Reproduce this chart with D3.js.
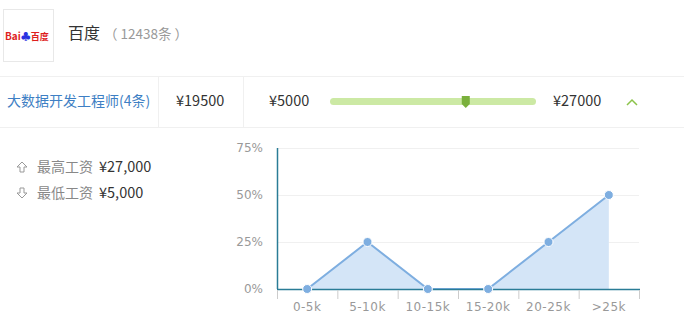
<!DOCTYPE html>
<html>
<head>
<meta charset="utf-8">
<script src="https://cdn.jsdelivr.net/npm/d3@7"></script>
<style>
  body { margin: 0; background: #fff; font-family: "Noto Sans CJK SC", "Liberation Sans", sans-serif; }
</style>
</head>
<body>
<div id="chart"></div>
<script>
const categories = ["0-5k", "5-10k", "10-15k", "15-20k", "20-25k", ">25k"];
const shares = [0, 25, 0, 0, 25, 50];
const yTicks = [0, 25, 50, 75];

const company = "百度";
const companyCount = "（ 12438条 ）";
const jobTitle = "大数据开发工程师(4条)";
const avgSalary = 19500;
const minSalary = 5000;
const maxSalary = 27000;

const width = 684, height = 323;
const font = '"Noto Sans CJK SC", "Liberation Sans", sans-serif';

const svg = d3.select("#chart").append("svg")
    .attr("width", width)
    .attr("height", height)
    .style("font-family", font);

// header: logo box + company name
svg.append("rect")
    .attr("x", 3.5).attr("y", 9.5).attr("width", 50).attr("height", 52)
    .attr("fill", "#fff").attr("stroke", "#e8e8e8");
const logo = svg.append("text").attr("x", 5).attr("y", 40).attr("font-size", 10).attr("font-weight", "bold");
logo.append("tspan").attr("fill", "#de1e1e").text("Bai");
logo.append("tspan").attr("fill", "#2932e1").text("\u2663");
logo.append("tspan").attr("fill", "#de1e1e").attr("font-size", 9).text("百度");

svg.append("text").attr("x", 68).attr("y", 39)
    .attr("font-size", 16).attr("fill", "#333").text(company);
svg.append("text").attr("x", 104).attr("y", 39)
    .attr("font-size", 13.5).attr("fill", "#999").text(companyCount);

// job row
svg.append("line").attr("x1", 0).attr("x2", width).attr("y1", 76.5).attr("y2", 76.5).attr("stroke", "#f0f0f0");
svg.append("line").attr("x1", 0).attr("x2", width).attr("y1", 127.5).attr("y2", 127.5).attr("stroke", "#f0f0f0");
[158.5, 243.5].forEach(x => {
  svg.append("line").attr("x1", x).attr("x2", x).attr("y1", 77).attr("y2", 127).attr("stroke", "#f0f0f0");
});

svg.append("text").attr("x", 7).attr("y", 106)
    .attr("font-size", 14).attr("fill", "#3e7fc4").text(jobTitle);
svg.append("text").attr("x", 176).attr("y", 106)
    .attr("font-size", 14.5).attr("fill", "#333").text("¥" + avgSalary);
svg.append("text").attr("x", 269).attr("y", 106)
    .attr("font-size", 14.5).attr("fill", "#333").text("¥" + minSalary);
svg.append("text").attr("x", 553).attr("y", 106)
    .attr("font-size", 14.5).attr("fill", "#333").text("¥" + maxSalary);

// salary slider
const sx = d3.scaleLinear().domain([minSalary, maxSalary]).range([330, 536]);
svg.append("rect")
    .attr("x", sx(minSalary)).attr("y", 98).attr("width", sx(maxSalary) - sx(minSalary)).attr("height", 7)
    .attr("rx", 3.5).attr("fill", "#cce9a4");
const mx = sx(avgSalary);
svg.append("path")
    .attr("d", `M${mx - 4},96 h8 v8 l-4,4 l-4,-4 z`)
    .attr("fill", "#7ab03c");
svg.append("path")
    .attr("d", "M627,105 l5,-5 l5,5")
    .attr("fill", "none").attr("stroke", "#8bc34a").attr("stroke-width", 1.5);

// left stats
svg.append("path").attr("d", "M22,162 l-5,5 h3 v5 h4 v-5 h3 z")
    .attr("fill", "none").attr("stroke", "#999");
svg.append("text").attr("x", 37).attr("y", 172).attr("font-size", 14).attr("fill", "#888").text("最高工资");
svg.append("text").attr("x", 99).attr("y", 172).attr("font-size", 14.5).attr("fill", "#333").text("¥27,000");
svg.append("path").attr("d", "M22,198 l-5,-5 h3 v-5 h4 v5 h3 z")
    .attr("fill", "none").attr("stroke", "#999");
svg.append("text").attr("x", 37).attr("y", 198).attr("font-size", 14).attr("fill", "#888").text("最低工资");
svg.append("text").attr("x", 99).attr("y", 198).attr("font-size", 14.5).attr("fill", "#333").text("¥5,000");

// chart
const margin = {left: 277, right: 45, top: 148, bottom: 34};
const x = d3.scaleBand().domain(categories).range([margin.left, width - margin.right]);
const y = d3.scaleLinear().domain([0, 75]).range([height - margin.bottom, margin.top]);

svg.append("g").selectAll("line").data(yTicks.filter(d => d > 0)).join("line")
    .attr("x1", margin.left).attr("x2", width - margin.right)
    .attr("y1", d => y(d) + 0.5).attr("y2", d => y(d) + 0.5)
    .attr("stroke", "#f0f0f0");

svg.append("g").selectAll("text").data(yTicks).join("text")
    .attr("x", 263).attr("y", d => y(d) + 4)
    .attr("text-anchor", "end").attr("font-size", 12).attr("fill", "#999")
    .attr("font-family", '"DejaVu Sans", sans-serif')
    .text(d => d + "%");

const cx = d => x(d) + x.bandwidth() / 2;
const pts = categories.map((c, i) => ({c, v: shares[i]}));

svg.append("path").datum(pts)
    .attr("fill", "#d4e5f7")
    .attr("d", d3.area().x(d => cx(d.c)).y0(y(0)).y1(d => y(d.v)));
svg.append("path").datum(pts)
    .attr("fill", "none").attr("stroke", "#7eaee0").attr("stroke-width", 2)
    .attr("d", d3.line().x(d => cx(d.c)).y(d => y(d.v)));

// axes
svg.append("line").attr("x1", margin.left + 0.5).attr("x2", margin.left + 0.5)
    .attr("y1", margin.top).attr("y2", y(0)).attr("stroke", "#2a7c96").attr("stroke-width", 1.5);
svg.append("line").attr("x1", margin.left).attr("x2", width - margin.right + 1)
    .attr("y1", y(0) + 0.5).attr("y2", y(0) + 0.5).attr("stroke", "#2a7c96").attr("stroke-width", 1.5);

const tickX = categories.map(c => x(c)).concat([x.range()[1]]);
svg.append("g").selectAll("line").data(tickX).join("line")
    .attr("x1", d => d + 0.5).attr("x2", d => d + 0.5)
    .attr("y1", y(0) + 1).attr("y2", y(0) + 10)
    .attr("stroke", "#ccc");

svg.append("g").selectAll("text").data(categories).join("text")
    .attr("x", d => cx(d)).attr("y", y(0) + 22)
    .attr("text-anchor", "middle").attr("font-size", 12).attr("fill", "#999")
    .attr("font-family", '"DejaVu Sans", sans-serif')
    .attr("letter-spacing", 0.5)
    .text(d => d);

svg.append("g").selectAll("circle").data(pts).join("circle")
    .attr("cx", d => cx(d.c)).attr("cy", d => y(d.v)).attr("r", 4.5)
    .attr("fill", "#7eaee0").attr("stroke", "#fff").attr("stroke-width", 1);
</script>
</body>
</html>
